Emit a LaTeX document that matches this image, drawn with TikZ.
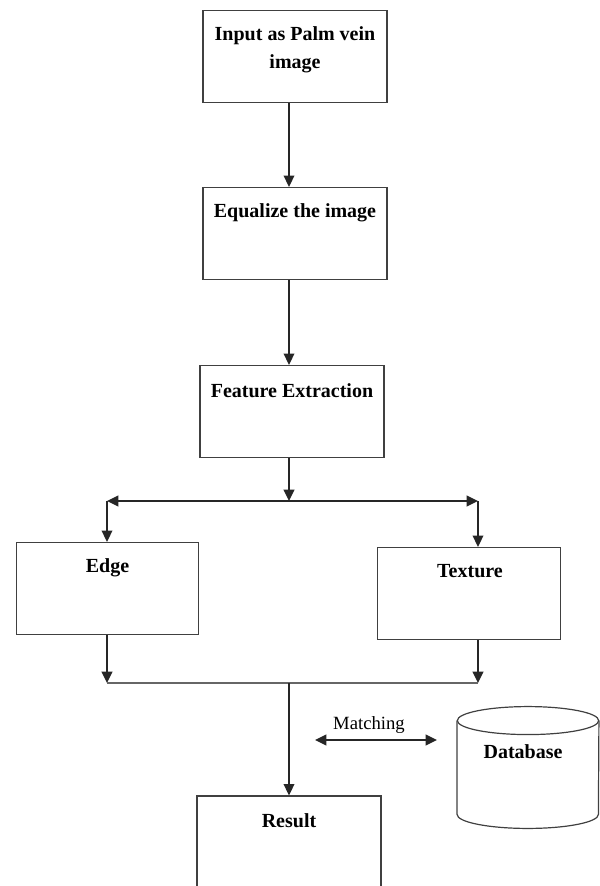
\documentclass[tikz,border=0pt]{standalone}
\usepackage{fontspec}
\setmainfont{Liberation Serif}
\usetikzlibrary{arrows.meta}
\begin{document}
\begin{tikzpicture}[x=0.75pt,y=-0.75pt,
  box/.style={draw=black!75, line width=0.9pt, minimum width=138pt, minimum height=69pt, inner sep=0},
  txt/.style={font=\fontsize{15}{21}\selectfont\bfseries, inner sep=0, anchor=base},
  dbline/.style={draw=black!75, line width=0.9pt},
  tip/.tip={Triangle[length=8.5pt,width=8pt]},
  arr/.style={line width=1.2pt, draw=black!85, -tip},
  dblarr/.style={line width=1.2pt, draw=black!85, tip-tip}]
\path[use as bounding box, clip] (0,0) rectangle (600,886);
\coordinate (spine) at (289,0);
\node[box] (input) at (295,56.5) {};
\node[txt, anchor=north, align=center] (inputtxt) at (295,26) {Input as Palm vein\\image};
\node[box] (equal) at (295,233.5) {};
\node[txt] (equaltxt) at (295,217) {Equalize the image};
\node[box] (feat) at (292,411.5) {};
\node[txt] (feattxt) at (292,397) {Feature Extraction};
\node[box, minimum width=137pt] (edge) at (107.5,588.5) {};
\node[txt] (edgetxt) at (107.5,572) {Edge};
\node[box, minimum width=137pt] (texture) at (469,593.5) {};
\node[txt] (texturetxt) at (470,577) {Texture};
\node[box, minimum height=90pt] (result) at (289,856) {};
\node[txt] (resulttxt) at (289,827) {Result};
\node[minimum width=106pt, minimum height=91pt, inner sep=0] (db) at (528,767.5) {};
\draw[dbline] ([yshift=-10.5pt]db.north) ellipse [x radius=53pt, y radius=10.5pt];
\draw[dbline] ([yshift=-10.5pt]db.north west) -- ([yshift=10.5pt]db.south west)
  arc[start angle=180, end angle=360, x radius=53pt, y radius=10.5pt] -- ([yshift=-10.5pt]db.north east);
\node[txt] (dbtxt) at (523,758) {Database};
\coordinate (split) at (289,501);
\coordinate (sleft) at (107,501);
\coordinate (sright) at (478,501);
\coordinate (jleft) at (107,683);
\coordinate (jright) at (478,683);
\coordinate (mleft) at (315,740);
\coordinate (mright) at (437,740);
\draw[arr] (input.south -| spine) -- (equal.north -| spine);
\draw[arr] (equal.south -| spine) -- (feat.north -| spine);
\draw[arr] (feat.south -| spine) -- (split);
\draw[dblarr] (sleft) -- (sright);
\draw[arr] (sleft) -- (sleft |- edge.north);
\draw[arr] (sright) -- (sright |- texture.north);
\draw[arr] (edge.south -| jleft) -- (jleft);
\draw[arr] (texture.south -| jright) -- (jright);
\draw[line width=0.9pt, draw=black!60] (jleft) -- (jright);
\draw[arr] (jleft -| spine) -- (result.north);
\draw[dblarr] (mleft) -- (mright);
\node[font=\fontsize{14}{16}\selectfont, inner sep=0, anchor=base] (match) at (369,729) {Matching};
\end{tikzpicture}
\end{document}
